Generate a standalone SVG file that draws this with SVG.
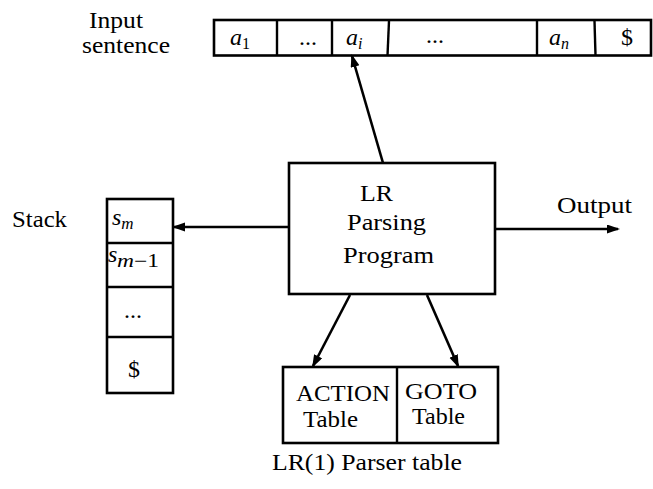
<svg xmlns="http://www.w3.org/2000/svg" width="653" height="489" viewBox="0 0 653 489">
  <style>
    .box { fill: #ffffff; stroke: #000000; stroke-width: 2.6; }
    .rule { stroke: #000000; stroke-width: 2.4; fill: none; }
    .wire { stroke: #000000; stroke-width: 2.6; fill: none; marker-end: url(#head); }
    text { font-family: "Liberation Serif", "Times New Roman", serif; font-size: 24px; fill: #000000; }
    .it { font-style: italic; }
    .sub { font-size: 16px; }
    .subline { font-size: 17px; }
    .subwide { font-size: 18px; }
  </style>
  <defs>
    <marker id="head" markerUnits="userSpaceOnUse" markerWidth="14" markerHeight="10" refX="11" refY="4.5" orient="auto">
      <path d="M0,0 L13,4.5 L0,9 Z" fill="#000000"/>
    </marker>
  </defs>

  <rect width="653" height="489" fill="#ffffff"/>

  <!-- label for the input tape -->
  <g id="input-label">
    <text x="89" y="28" textLength="54" lengthAdjust="spacingAndGlyphs">Input</text>
    <text x="82" y="53" textLength="88" lengthAdjust="spacingAndGlyphs">sentence</text>
  </g>

  <!-- input tape a1 ... ai ... an $ -->
  <g id="input-tape">
    <rect class="box" x="214" y="20" width="437" height="35.5"/>
    <line class="rule" x1="277" y1="20" x2="277" y2="55.5"/>
    <line class="rule" x1="332" y1="20" x2="332" y2="55.5"/>
    <line class="rule" x1="389" y1="21" x2="387.5" y2="55.5"/>
    <line class="rule" x1="537" y1="20" x2="537" y2="55.5"/>
    <line class="rule" x1="594.5" y1="21" x2="595.5" y2="55.5"/>
    <text x="230" y="45"><tspan class="it">a</tspan><tspan class="sub" dy="4">1</tspan></text>
    <text x="299" y="45">...</text>
    <text x="346" y="45"><tspan class="it">a</tspan><tspan class="sub it" dy="4">i</tspan></text>
    <text x="426" y="43">...</text>
    <text x="549" y="45"><tspan class="it">a</tspan><tspan class="sub it" dy="4">n</tspan></text>
    <text x="621" y="45">$</text>
  </g>

  <!-- stack label -->
  <g id="stack-label">
    <text x="12" y="227" textLength="55" lengthAdjust="spacingAndGlyphs">Stack</text>
  </g>

  <!-- parse stack -->
  <g id="stack">
    <rect class="box" x="107" y="199" width="66" height="194"/>
    <line class="rule" x1="107" y1="243" x2="173" y2="243"/>
    <line class="rule" x1="107" y1="287" x2="173" y2="287"/>
    <line class="rule" x1="107" y1="337" x2="173" y2="337"/>
    <text x="112" y="225"><tspan class="it">s</tspan><tspan class="subline it" dy="4">m</tspan></text>
    <text x="108" y="262" class="it">s</text>
    <text x="117" y="267" class="subwide" textLength="42" lengthAdjust="spacingAndGlyphs"><tspan class="it">m</tspan>−1</text>
    <text x="124" y="318">...</text>
    <text x="128" y="377">$</text>
  </g>

  <!-- driver program -->
  <g id="parser">
    <rect class="box" x="289" y="163" width="206" height="131"/>
    <text x="360" y="201" textLength="33" lengthAdjust="spacingAndGlyphs">LR</text>
    <text x="347" y="230" textLength="79" lengthAdjust="spacingAndGlyphs">Parsing</text>
    <text x="343" y="263" textLength="91" lengthAdjust="spacingAndGlyphs">Program</text>
  </g>

  <!-- output label -->
  <g id="output-label">
    <text x="557" y="213" textLength="75" lengthAdjust="spacingAndGlyphs">Output</text>
  </g>

  <!-- parse table -->
  <g id="parser-table">
    <rect class="box" x="283" y="367" width="215" height="76"/>
    <line class="rule" x1="397" y1="367" x2="397" y2="443"/>
    <text x="296" y="401" textLength="94" lengthAdjust="spacingAndGlyphs">ACTION</text>
    <text x="303" y="427" textLength="55" lengthAdjust="spacingAndGlyphs">Table</text>
    <text x="405" y="399" textLength="72" lengthAdjust="spacingAndGlyphs">GOTO</text>
    <text x="412" y="424" textLength="53" lengthAdjust="spacingAndGlyphs">Table</text>
  </g>

  <g id="table-caption">
    <text x="272" y="470" textLength="190" lengthAdjust="spacingAndGlyphs">LR(1) Parser table</text>
  </g>

  <!-- connectors -->
  <g id="connectors">
    <path class="wire" d="M383,163 L352,56"/>
    <path class="wire" d="M289,227 L174,227"/>
    <path class="wire" d="M495,229 L618,229"/>
    <path class="wire" d="M350,295 L313,366"/>
    <path class="wire" d="M427,295 L458,366"/>
  </g>
</svg>
